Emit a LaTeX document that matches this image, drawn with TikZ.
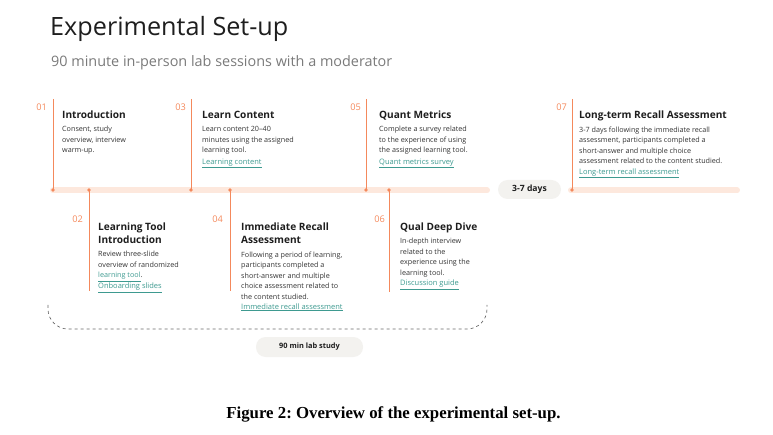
\documentclass[tikz,border=0pt]{standalone}
\usepackage{fontspec}
\setmainfont{Open Sans}
\newfontfamily\capfont{Liberation Serif}
\definecolor{accent}{HTML}{F4895C}
\definecolor{bandc}{HTML}{FDE8DD}
\definecolor{linkc}{HTML}{3E9A90}
\definecolor{bodyc}{HTML}{333333}
\definecolor{headc}{HTML}{1E1E1E}
\definecolor{subc}{HTML}{7A7A7A}
\definecolor{pillc}{HTML}{F3F2EF}
\definecolor{dashc}{HTML}{6A6A6A}
\newcommand{\lnk}[1]{\textcolor{linkc}{\underline{#1}}}
\newcommand{\bodytext}[1]{\parbox[t]{170pt}{\raggedright\fontsize{7.2}{10.5}\selectfont\color{bodyc}#1}}
\newcommand{\headtext}[1]{\parbox[t]{170pt}{\raggedright\fontsize{10.1}{13}\selectfont\bfseries\color{headc}#1}}
\tikzset{
  num/.style={anchor=base east, inner sep=0pt, text=accent, font=\fontsize{9.2}{9}\selectfont},
  txt/.style={anchor=base west, inner sep=0pt},
  linkn/.style={anchor=base west, inner sep=0pt, font=\fontsize{7.5}{9}\selectfont},
  vline/.style={draw=accent, line width=1pt},
  dotn/.style={circle, fill=accent, inner sep=0pt, minimum size=3.8pt},
  band/.style={draw=bandc, line width=6pt, line cap=round},
  pill/.style={fill=pillc, rounded corners=9.5pt, inner sep=0pt, text=headc},
}
\begin{document}
\begin{tikzpicture}[x=1pt,y=-1pt]
\useasboundingbox (0,0) rectangle (773,435);
% title
\node[txt, font=\fontsize{25.2}{25}\selectfont, text=headc] (title) at (50,36) {Experimental Set-up};
\node[txt, font=\fontsize{14.4}{15}\selectfont, text=subc] (subtitle) at (51,67) {90 minute in-person lab sessions with a moderator};
% band
\coordinate (b1s) at (53,190.5);
\coordinate (b1e) at (487,190.5);
\coordinate (b2s) at (571,190.5);
\coordinate (b2e) at (737,190.5);
\draw[band] (b1s) -- (b1e);
\draw[band] (b2s) -- (b2e);
% dots on band
\node[dotn] (d1) at (53,190) {};
\node[dotn] (d2) at (89,190) {};
\node[dotn] (d3) at (191,190) {};
\node[dotn] (d4) at (230,190) {};
\node[dotn] (d5) at (366,190) {};
\node[dotn] (d6) at (389,190) {};
\node[dotn] (d7) at (572,190) {};
% line ends
\coordinate (t1) at (53,99);
\coordinate (t3) at (191,99);
\coordinate (t5) at (366,99);
\coordinate (t7) at (572,99);
\coordinate (e2) at (89,291);
\coordinate (e4) at (230,291);
\coordinate (e6) at (389,292);
\draw[vline] (t1) -- (d1.center);
\draw[vline] (t3) -- (d3.center);
\draw[vline] (t5) -- (d5.center);
\draw[vline] (t7) -- (d7.center);
\draw[vline] (d2.center) -- (e2);
\draw[vline] (d4.center) -- (e4);
\draw[vline] (d6.center) -- (e6);
% pills
\node[pill, minimum width=63pt, minimum height=19pt, font=\fontsize{8.6}{9}\selectfont\bfseries] (days) at (529.5,189.5) {3-7 days};
\node[pill, minimum width=107pt, minimum height=20pt, font=\fontsize{7.4}{8}\selectfont\bfseries] (lab) at (309.5,347) {90 min lab study};
% dashed bracket
\coordinate (k1) at (48,305);
\coordinate (k2) at (48,329);
\coordinate (k3) at (487,329);
\coordinate (k4) at (487,305);
\draw[dashc, dashed, line width=0.7pt, rounded corners=20pt] (k1) -- (k2) -- (k3) -- (k4);
% 01
\node[num] (n1) at (47,111) {01};
\node[txt] (h1) at (62,111) {\headtext{Introduction}};
\node[txt] (x1) at (62,126.5) {\bodytext{Consent, study\\overview, interview\\warm-up.}};
% 03
\node[num] (n3) at (186,111) {03};
\node[txt] (h3) at (202,111) {\headtext{Learn Content}};
\node[txt] (x3) at (202,126.5) {\bodytext{Learn content 20--40\\minutes using the assigned\\learning tool.}};
\node[linkn] (l3) at (202,164.5) {\lnk{Learning content}};
% 05
\node[num] (n5) at (361,111) {05};
\node[txt] (h5) at (379,111) {\headtext{Quant Metrics}};
\node[txt] (x5) at (379,126.5) {\bodytext{Complete a survey related\\to the experience of using\\the assigned learning tool.}};
\node[linkn] (l5) at (379,164.5) {\lnk{Quant metrics survey}};
% 07
\node[num] (n7) at (567,111) {07};
\node[txt] (h7) at (579,111) {\headtext{Long-term Recall Assessment}};
\node[txt] (x7) at (579,126.5) {\bodytext{3-7 days following the immediate recall\\assessment, participants completed a\\short-answer and multiple choice\\assessment related to the content studied.}};
\node[linkn] (l7) at (579,174.5) {\lnk{Long-term recall assessment}};
% 02
\node[num] (n2) at (83,223) {02};
\node[txt] (h2) at (98,223) {\headtext{Learning Tool\\Introduction}};
\node[txt] (x2) at (98,251.5) {\bodytext{Review three-slide\\overview of randomized\\\lnk{learning tool}.}};
\node[linkn] (l2) at (98,288.5) {\lnk{Onboarding slides}};
% 04
\node[num] (n4) at (223,223) {04};
\node[txt] (h4) at (241,223) {\headtext{Immediate Recall\\Assessment}};
\node[txt] (x4) at (241,251.5) {\bodytext{Following a period of learning,\\participants completed a\\short-answer and multiple\\choice assessment related to\\the content studied.}};
\node[linkn] (l4) at (241,309) {\lnk{Immediate recall assessment}};
% 06
\node[num] (n6) at (385,223) {06};
\node[txt] (h6) at (400,223) {\headtext{Qual Deep Dive}};
\node[txt] (x6) at (400,238.5) {\bodytext{In-depth interview\\related to the\\experience using the\\learning tool.}};
\node[linkn] (l6) at (400,286) {\lnk{Discussion guide}};
% caption
\node[anchor=base, inner sep=0pt, font=\capfont\bfseries\fontsize{16.8}{17}\selectfont] (cap) at (393.5,418) {\frenchspacing Figure 2: Overview of the experimental set-up.};
\end{tikzpicture}
\end{document}
